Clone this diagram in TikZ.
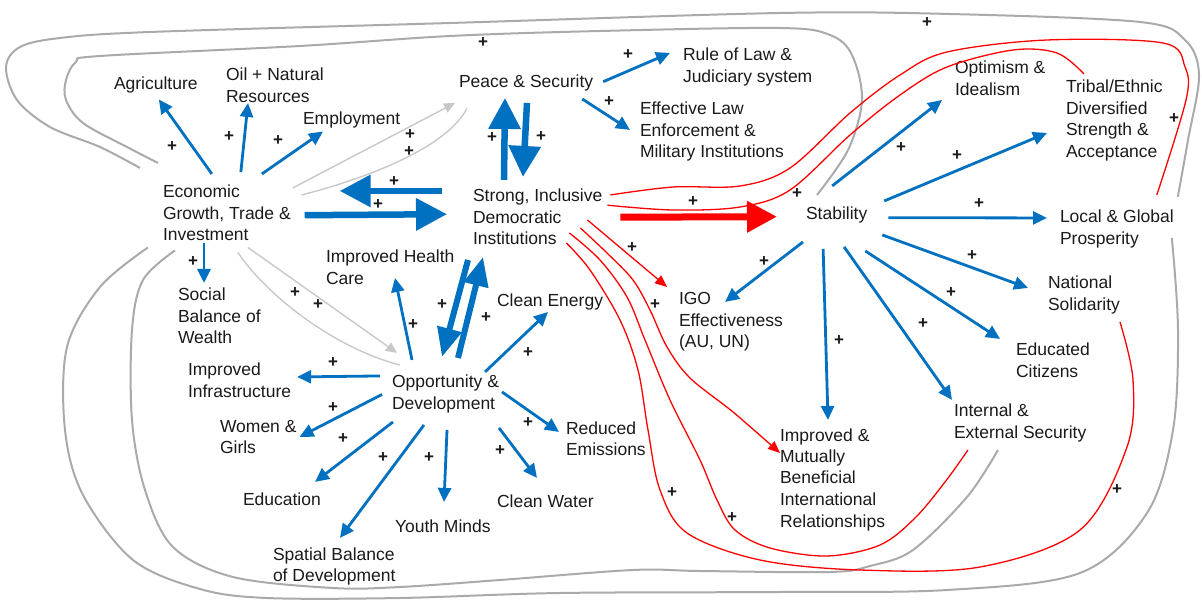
\documentclass[tikz,border=0pt]{standalone}
\usepackage{fontspec}
\setmainfont{Liberation Sans}
\usetikzlibrary{arrows.meta}
\definecolor{flow}{HTML}{0070C0}
\definecolor{loopgray}{HTML}{AAAAAA}
\definecolor{linkgray}{HTML}{C8C8C8}
\definecolor{ink}{HTML}{1A1A1A}
% multi-line label, first baseline is the node baseline
\newcommand\ml[1]{\begin{tabular}[t]{@{}l@{}}#1\end{tabular}}

\begin{document}
\begin{tikzpicture}[x=1pt,y=-1pt,
  lbl/.style={anchor=base west, inner sep=0pt, outer sep=0pt, text=ink,
              font=\fontsize{17.5}{21.5}\selectfont},
  sign/.style={inner sep=0pt, text=ink, font=\fontsize{17}{17}\selectfont\bfseries},
  flowarrow/.style={draw=flow, line width=2.8pt, -{Triangle[length=14pt,width=13pt]}},
  bigflow/.style={draw=flow, line width=6.5pt, -{Triangle[length=31pt,width=31pt]}},
  diagflow/.style={draw=flow, line width=6pt, -{Triangle[length=29pt,width=24pt]}},
  redbig/.style={draw=red, line width=7pt, -{Triangle[length=30pt,width=30pt]}},
  redlink/.style={draw=red, line width=1.3pt},
  redarrow/.style={redlink, -{Triangle[length=12pt,width=10pt]}},
  greylink/.style={draw=linkgray, line width=1.4pt},
  greyarrow/.style={greylink, -{Triangle[length=11pt,width=10pt]}},
  loopline/.style={draw=loopgray, line width=2pt},
]
\useasboundingbox (0,0) rectangle (1202,601);

% ---- variables ----
\node[lbl] (agri)    at (114,90)  {\ml{Agriculture}};
\node[lbl] (oil)     at (226,81)  {\ml{Oil + Natural\\Resources}};
\node[lbl] (emp)     at (303,125) {\ml{Employment}};
\node[lbl] (eg)      at (163,198) {\ml{Economic\\Growth, Trade \&\\Investment}};
\node[lbl] (peace)   at (459,88)  {\ml{Peace \& Security}};
\node[lbl] (rule)    at (683,61)  {\ml{Rule of Law \&\\Judiciary system}};
\node[lbl] (eff)     at (640,115) {\ml{Effective Law\\Enforcement \&\\Military Institutions}};
\node[lbl] (strong)  at (473,202) {\ml{Strong, Inclusive\\Democratic\\Institutions}};
\node[lbl] (stab)    at (806,220) {\ml{Stability}};
\node[lbl] (opt)     at (955,74)  {\ml{Optimism \&\\Idealism}};
\node[lbl] (tribal)  at (1066,93) {\ml{Tribal/Ethnic\\Diversified\\Strength \&\\Acceptance}};
\node[lbl] (local)   at (1060,223) {\ml{Local \& Global\\Prosperity}};
\node[lbl] (nat)     at (1048,289) {\ml{National\\Solidarity}};
\node[lbl] (edu)     at (1016,356) {\ml{Educated\\Citizens}};
\node[lbl] (ies)     at (954,417) {\ml{Internal \&\\External Security}};
\node[lbl] (imb)     at (780,441) {\ml{Improved \&\\Mutually\\Beneficial\\International\\Relationships}};
\node[lbl] (igo)     at (679,305) {\ml{IGO\\Effectiveness\\(AU, UN)}};
\node[lbl] (health)  at (326,263) {\ml{Improved Health\\Care}};
\node[lbl] (cen)     at (497,307) {\ml{Clean Energy}};
\node[lbl] (opp)     at (392,388) {\ml{Opportunity \&\\Development}};
\node[lbl] (emis)    at (566,434) {\ml{Reduced\\Emissions}};
\node[lbl] (cwa)     at (497,507) {\ml{Clean Water}};
\node[lbl] (youth)   at (395,532) {\ml{Youth Minds}};
\node[lbl] (spatial) at (273,560) {\ml{Spatial Balance\\of Development}};
\node[lbl] (educ)    at (243,505) {\ml{Education}};
\node[lbl] (women)   at (220,432) {\ml{Women \&\\Girls}};
\node[lbl] (infra)   at (188,376) {\ml{Improved\\Infrastructure}};
\node[lbl] (social)  at (178,301) {\ml{Social\\Balance of\\Wealth}};

% ---- long feedback loops (grey) ----
\draw[loopline] plot[smooth, tension=0.55] coordinates {
  ([shift={(11,-10)}]stab.north west) (848,150) (862,100) (852,55) (830,35)
  (780,28) (600,31) (450,36) (300,46) (100,56) (76,62) (66,80) (66,100)
  (83,123) (127,147) ([shift={(-5,-20)}]eg.north west)};
\draw[loopline] plot[smooth, tension=0.55] coordinates {
  ([shift={(4,-11)}]local.north east) (1188,140) (1199,75) (1185,40) (1140,22)
  (950,14) (780,13) (450,23) (150,32) (60,38) (20,47) (6,67) (17,100)
  (50,127) (100,147) ([shift={(-23,-15)}]eg.north west)};
\draw[loopline] plot[smooth, tension=0.55] coordinates {
  ([shift={(44,5)}]ies.south west) (967,497) (913,550) (870,566) (830,572)
  (700,571) (633,570) (500,580) (400,587) (333,588) (233,577) (173,547)
  (145,490) (132,420) (132,330) (143,280) ([shift={(12,3)}]eg.south west)};
\draw[loopline] plot[smooth, tension=0.55] coordinates {
  ([shift={(-2,-13)}]local.south east) (1178,330) (1173,430) (1147,513)
  (1080,573) (947,590) (780,592) (560,593) (400,598) (267,598) (200,589)
  (133,560) (83,495) (65,430) (67,347) (100,287) ([shift={(-15,0)}]eg.south west)};

% ---- grey links from economic growth ----
\draw[greyarrow] ([shift={(2,5)}]eg.north east) -- ([shift={(-4,8.5)}]peace.south west);
\draw[greylink] ([shift={(11,12)}]eg.north east) .. controls (360,180) and (445,150) .. ([shift={(8,14)}]peace.south west);
\draw[greyarrow] ([shift={(21,0)}]eg.south) -- ([shift={(5,-20)}]opp.north west);
\draw[greylink] ([shift={(11,5)}]eg.south) .. controls (270,300) and (340,350) .. ([shift={(8,-8)}]opp.north west);

% ---- red links from the institutions ----
\draw[redlink] plot[smooth, tension=0.55] coordinates {
  ([shift={(8,8)}]strong.north east) (673,187) (740,186) (790,168) (850,113)
  (900,75) (947,52) (1047,40) (1163,43) (1185,67) (1186,100)
  ([shift={(-17,-13)}]local.north east)};
\draw[redlink] plot[smooth, tension=0.55] coordinates {
  ([shift={(5,-14)}]strong.east) (673,210) (740,207) (790,190) (850,135)
  (900,95) (947,67) (1013,50) (1057,53) ([shift={(18,-4)}]tribal.north west)};
\draw[redarrow] ([shift={(-15,-31.5)}]strong.south east) -- ([shift={(-12,-3)}]igo.north west);
\draw[redarrow] plot[smooth, tension=0.55] coordinates {
  ([shift={(-22,-23.5)}]strong.south east) (607,253) (633,280) (650,310)
  (667,347) (690,378) (733,412) ([shift={(0,27)}]imb.north west)};
\draw[redlink] plot[smooth, tension=0.55] coordinates {
  ([shift={(-33,-18.5)}]strong.south east) (600,260) (627,297) (645,340)
  (670,400) (700,460) (717,500) (735,530) (770,548) (827,556) (880,545)
  (915,518) (945,482) ([shift={(14,5)}]ies.south west)};
\draw[redlink] plot[smooth, tension=0.55] coordinates {
  ([shift={(-36,-8.5)}]strong.south east) (590,270) (620,320) (638,370)
  (648,430) (660,490) (687,533) (760,560) (860,570) (980,567) (1080,530)
  (1127,447) (1133,380) ([shift={(0,5)}]nat.south east)};
\draw[redbig] ([shift={(18,-2)}]strong.east) -- ([shift={(-29,1)}]stab.west);

% ---- economic growth ----
\draw[flowarrow] ([shift={(-15,-9)}]eg.north) -- ([shift={(3,3)}]agri.south);
\draw[flowarrow] ([shift={(14,-11)}]eg.north) -- ([shift={(22,-6)}]oil.south west);
\draw[flowarrow] ([shift={(35,-9)}]eg.north) -- ([shift={(20,0)}]emp.south west);
\draw[flowarrow] ([shift={(41,-4)}]eg.south west) -- ([shift={(26,-3)}]social.north west);
\draw[bigflow] ([shift={(-31,4)}]strong.north west) -- ([shift={(49,8)}]eg.north east);
\draw[bigflow] ([shift={(14,0)}]eg.east) -- ([shift={(-26,-5)}]strong.west);

% ---- peace and security ----
\draw[bigflow] ([shift={(31,-7)}]strong.north west) -- ([shift={(46,3.5)}]peace.south west);
\draw[bigflow] ([shift={(68,8.5)}]peace.south west) -- ([shift={(50,-10)}]strong.north west);
\draw[flowarrow] ([shift={(10,-2)}]peace.east) -- ([shift={(-13,7)}]rule.north west);
\draw[flowarrow] ([shift={(-11,4.5)}]peace.south east) -- ([shift={(-10,30)}]eff.north west);

% ---- opportunity and development ----
\draw[diagflow] ([shift={(-5,8.5)}]strong.south west) -- ([shift={(50,-16)}]opp.north west);
\draw[diagflow] ([shift={(66,-15)}]opp.north west) -- ([shift={(10,5.5)}]strong.south west);
\draw[flowarrow] ([shift={(20,-13)}]opp.north west) -- ([shift={(69,-13)}]health.south west);
\draw[flowarrow] ([shift={(-14,-1)}]opp.north east) -- ([shift={(51,-1.5)}]cen.south west);
\draw[flowarrow] ([shift={(3,-2.5)}]opp.east) -- ([shift={(-7,-8.5)}]emis.west);
\draw[flowarrow] ([shift={(0,12)}]opp.south east) -- ([shift={(40,-14)}]cwa.north west);
\draw[flowarrow] ([shift={(55,14)}]opp.south west) -- ([shift={(49,-15)}]youth.north west);
\draw[flowarrow] ([shift={(32,9)}]opp.south west) -- ([shift={(67,-7)}]spatial.north west);
\draw[flowarrow] ([shift={(1,6)}]opp.south west) -- ([shift={(72,-8)}]educ.north west);
\draw[flowarrow] ([shift={(-10,0)}]opp.west) -- ([shift={(3,20)}]women.north east);
\draw[flowarrow] ([shift={(-12,3)}]opp.north west) -- ([shift={(6,16)}]infra.north east);

% ---- stability ----
\draw[flowarrow] ([shift={(-4.5,-19)}]stab.north) -- ([shift={(-13,-2)}]opt.south west);
\draw[flowarrow] ([shift={(17,-4)}]stab.north east) -- ([shift={(-19,12)}]tribal.west);
\draw[flowarrow] ([shift={(21,2)}]stab.east) -- ([shift={(-13,10)}]local.north west);
\draw[flowarrow] ([shift={(15,8.5)}]stab.south east) -- ([shift={(-20,14)}]nat.north west);
\draw[flowarrow] ([shift={(-2,24.5)}]stab.south east) -- ([shift={(-16,-2)}]edu.north west);
\draw[flowarrow] ([shift={(7.5,20.5)}]stab.south) -- ([shift={(-2,-2)}]ies.north west);
\draw[flowarrow] ([shift={(-13.5,22.5)}]stab.south) -- ([shift={(48,-6)}]imb.north west);
\draw[flowarrow] ([shift={(-3,15.5)}]stab.south west) -- ([shift={(46,12)}]igo.north west);

% ---- polarity signs ----
\foreach \p [count=\i] in {
  {(172,147)},{(229,137)},{(278,141)},{(410,135)},{(409,152)},{(394,182)},
  {(378,205)},{(483,43)},{(492,138)},{(541,137)},{(628,55)},{(609,102)},
  {(193,262)},{(295,293)},{(318,305)},{(413,325)},{(442,305)},{(486,318)},
  {(528,353)},{(528,423)},{(500,451)},{(429,458)},{(383,458)},{(343,439)},
  {(333,408)},{(333,363)},{(693,202)},{(632,248)},{(655,305)},{(672,493)},
  {(732,518)},{(797,194)},{(927,23)},{(1174,119)},{(901,148)},{(957,156)},
  {(979,204)},{(972,256)},{(951,293)},{(923,324)},{(839,341)},{(764,262)},
  {(1117,490)}}
  \node[sign] (sign\i) at \p {+};
\end{tikzpicture}
\end{document}
